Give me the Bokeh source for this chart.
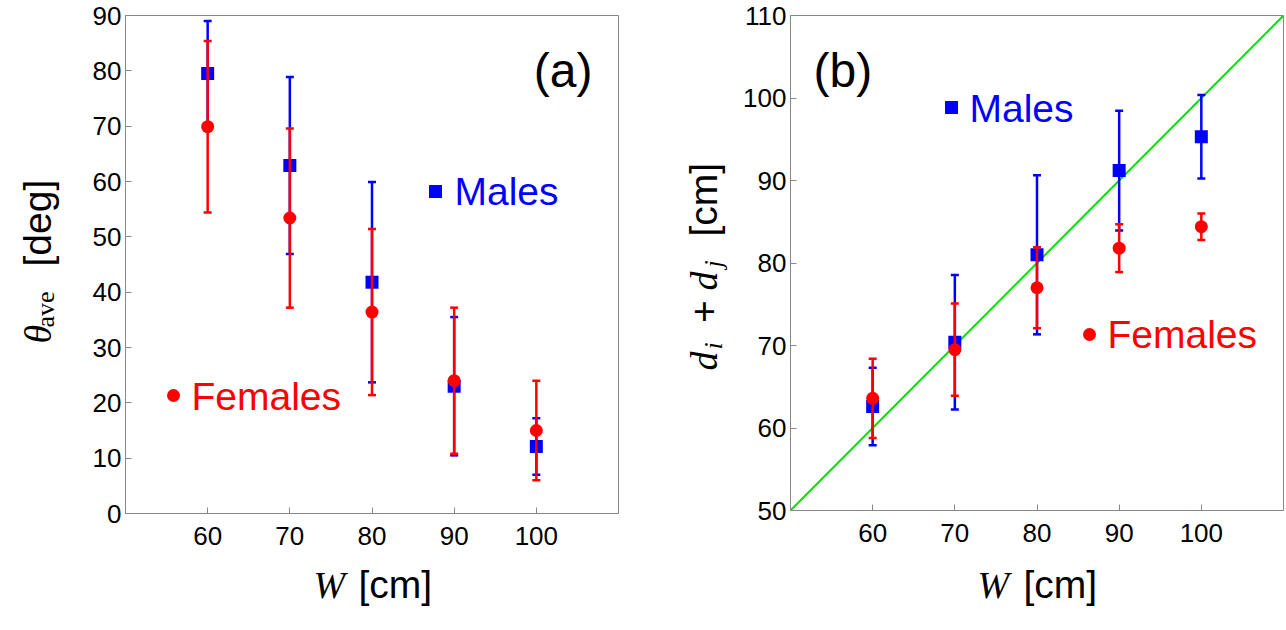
import math
from bokeh.plotting import figure
from bokeh.models import Label, Range1d, FixedTicker
from bokeh.layouts import row, column
from bokeh.embed import file_html
from bokeh.resources import INLINE

# ---------------- data ----------------
W = [60, 70, 80, 90, 100]
# panel (a): theta_ave [deg]
theta_male = [79.5, 62.9, 41.8, 23.0, 12.1]
theta_male_err = [9.5, 16.0, 18.1, 12.5, 5.1]
theta_female = [69.9, 53.4, 36.4, 24.0, 15.0]
theta_female_err = [15.5, 16.2, 15.0, 13.2, 9.0]
# panel (b): d_i + d_j [cm]
d_male = [62.6, 70.4, 81.0, 91.2, 95.3]
d_male_err = [4.7, 8.15, 9.65, 7.25, 5.05]
d_female = [63.6, 69.5, 77.0, 81.8, 84.4]
d_female_err = [4.8, 5.6, 4.9, 2.9, 1.6]
# reference line d = W
line_w = [50, 110]

x_ticks = [60, 70, 80, 90, 100]
ya_ticks = [0, 10, 20, 30, 40, 50, 60, 70, 80, 90]
yb_ticks = [50, 60, 70, 80, 90, 100, 110]

BLUE = "#0000ff"
RED = "#ff0000"
GREEN = "#00e000"
GRAY = "#888888"
SANS = "Liberation Sans"
SERIF = "Liberation Serif"
rot = math.pi / 2


def make_fig(ylo, yhi, yticks, border_left, border_right, frame_h, border_bottom):
    p = figure(width=border_left + 493 + border_right, height=15 + frame_h + border_bottom,
               frame_width=493, frame_height=frame_h,
               min_border_left=border_left, min_border_right=border_right,
               min_border_top=15, min_border_bottom=border_bottom,
               x_range=Range1d(50, 110), y_range=Range1d(ylo, yhi),
               output_backend="svg", toolbar_location=None)
    p.xgrid.visible = False
    p.ygrid.visible = False
    p.outline_line_color = GRAY
    p.outline_line_width = 1
    p.background_fill_color = "white"
    p.border_fill_color = "white"
    p.xaxis.ticker = FixedTicker(ticks=x_ticks)
    p.yaxis.ticker = FixedTicker(ticks=yticks)
    for ax in (p.xaxis[0], p.yaxis[0]):
        ax.axis_line_color = GRAY
        ax.major_tick_line_color = GRAY
        ax.major_tick_in = 6
        ax.major_tick_out = 0
        ax.minor_tick_line_color = None
        ax.major_label_text_font = SANS
        ax.major_label_text_font_size = "26px"
        ax.major_label_text_color = "black"
    p.xaxis.major_label_standoff = 13
    p.yaxis.major_label_standoff = 4
    return p


def label_fig(x0, x1, y0, y1):
    """Blank strip whose data units equal page pixels (y grows downward)."""
    f = figure(width=x1 - x0, height=y1 - y0, frame_width=x1 - x0, frame_height=y1 - y0,
               min_border=0, title=None,
               x_range=Range1d(x0, x1), y_range=Range1d(y1, y0),
               x_axis_location=None, y_axis_location=None,
               output_backend="svg", toolbar_location=None)
    f.grid.visible = False
    f.outline_line_color = None
    f.background_fill_color = "white"
    f.border_fill_color = "white"
    return f


def errorbars(p, xs, ys, errs, color, marker, size):
    lo = [y - e for y, e in zip(ys, errs)]
    hi = [y + e for y, e in zip(ys, errs)]
    p.segment(x0=xs, y0=lo, x1=xs, y1=hi, line_color=color, line_width=2.5)
    p.scatter(x=xs, y=lo, marker="dash", size=8, line_color=color, line_width=2.5)
    p.scatter(x=xs, y=hi, marker="dash", size=8, line_color=color, line_width=2.5)
    p.scatter(x=xs, y=ys, marker=marker, size=size, fill_color=color, line_color=color, line_width=0)


def lab(p, xy, text, size, font=SANS, style="normal", color="black", align="left", angle=0.0):
    p.add_layout(Label(x=xy[0], y=xy[1], text=text, text_font=font, text_font_style=style,
                       text_font_size=size, text_color=color, text_align=align,
                       text_baseline="middle", angle=angle, level="overlay"))


def px(sx, sy):
    return sx, sy


# ---------------- panel (a) ----------------
pa = make_fig(0, 90, ya_ticks, 60, 22, 498, 47)      # page x 65..640, y 0..560


def A(sx, sy):
    return 50 + (sx - 125) * 60 / 493, (513 - sy) * 90 / 498


errorbars(pa, W, theta_male, theta_male_err, BLUE, "square", 13)
errorbars(pa, W, theta_female, theta_female_err, RED, "circle", 13)

mx, my = A(435, 191)
pa.scatter(x=[mx], y=[my], marker="square", size=13, fill_color=BLUE, line_color=BLUE, line_width=0)
lab(pa, A(454, 191), "Males", "39px", color=BLUE)
fx, fy = A(173, 395)
pa.scatter(x=[fx], y=[fy], marker="circle", size=13, fill_color=RED, line_color=RED, line_width=0)
lab(pa, A(191, 396), "Females", "39px", color=RED)
lab(pa, A(592, 70), "(a)", "48px", align="right")

# axis labels (a)
ylab_a = label_fig(0, 65, 0, 630)
lab(ylab_a, px(37, 343), "θ", "38px", font=SERIF, style="italic", angle=rot)
lab(ylab_a, px(45, 327), "ave", "26px", font=SERIF, angle=rot)
lab(ylab_a, px(37, 266), "[deg]", "39px", angle=rot)

# the strip's frame lines up with the frame of panel (a): page x 125..640
xlab_a = label_fig(125, 640, 560, 630)
lab(xlab_a, px(313, 584), "W", "38px", font=SERIF, style="italic")
lab(xlab_a, px(358, 584), "[cm]", "39px")

# ---------------- panel (b) ----------------
pb = make_fig(50, 110, yb_ticks, 60, 3, 495, 50)     # page x 730..1286, y 0..560


def B(sx, sy):
    return 50 + (sx - 790) * 60 / 493, 50 + (510 - sy) * 60 / 495


pb.line(x=line_w, y=line_w, line_color=GREEN, line_width=2)
errorbars(pb, W, d_male, d_male_err, BLUE, "square", 13)
errorbars(pb, W, d_female, d_female_err, RED, "circle", 13)

mx, my = B(951, 107)
pb.scatter(x=[mx], y=[my], marker="square", size=13, fill_color=BLUE, line_color=BLUE, line_width=0)
lab(pb, B(969, 108), "Males", "39px", color=BLUE)
fx, fy = B(1089, 334)
pb.scatter(x=[fx], y=[fy], marker="circle", size=13, fill_color=RED, line_color=RED, line_width=0)
lab(pb, B(1107, 334), "Females", "39px", color=RED)
lab(pb, B(813, 70), "(b)", "48px")

# axis labels (b)
ylab_b = label_fig(640, 730, 0, 630)
lab(ylab_b, px(703, 370), "d", "38px", font=SERIF, style="italic", angle=rot)
lab(ylab_b, px(713, 349), "i", "26px", font=SERIF, style="italic", angle=rot)
lab(ylab_b, px(703, 311), "+", "39px", align="center", angle=rot)
lab(ylab_b, px(703, 290), "d", "38px", font=SERIF, style="italic", angle=rot)
lab(ylab_b, px(713, 267), "j", "26px", font=SERIF, style="italic", angle=rot)
lab(ylab_b, px(703, 236), "[cm]", "39px", angle=rot)

# the strip's frame lines up with the frame of panel (b): page x 790..1286
xlab_b = label_fig(790, 1286, 560, 630)
lab(xlab_b, px(977, 584), "W", "38px", font=SERIF, style="italic")
lab(xlab_b, px(1023, 584), "[cm]", "39px")

layout = row(ylab_a, column(pa, xlab_a), ylab_b, column(pb, xlab_b))
open("out.html", "w").write(file_html(layout, INLINE))
